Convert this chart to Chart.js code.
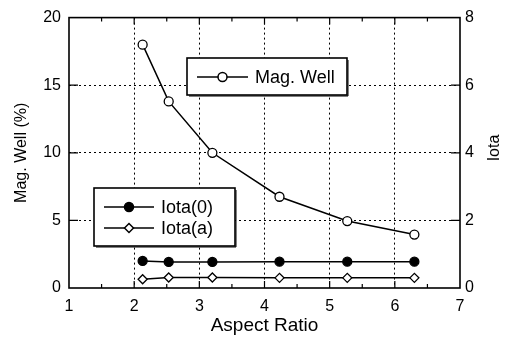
<!DOCTYPE html>
<html lang="en">
<head>
  <meta charset="UTF-8">
  <title>Mag. Well and Iota vs Aspect Ratio</title>
  <script src="https://cdn.jsdelivr.net/npm/chart.js"></script>
  <style>
    body { margin: 0; background: white; }
    #wrap { width: 513px; height: 338px; }
  </style>
</head>
<body>
  <div id="wrap"><canvas id="grafico"></canvas></div>

  <script>
    const aspectRatio = [2.13, 2.53, 3.2, 4.23, 5.27, 6.3];
    const magWell = [18.0, 13.8, 10.0, 6.75, 4.95, 3.95];
    const iota0 = [0.80, 0.77, 0.77, 0.78, 0.78, 0.78];
    const iotaA = [0.26, 0.31, 0.31, 0.30, 0.30, 0.30];

    const fonte = "'Liberation Sans', Arial, sans-serif";
    const pontos = arr => arr.map((v, i) => ({ x: aspectRatio[i], y: v }));
    const pontilhado = ctx => (ctx.index === 0 || ctx.index === ctx.chart.scales[ctx.scale.id].ticks.length - 1) ? "rgba(0,0,0,0)" : "#000";

    // legend boxes + frame + inward ticks
    const extras = {
      id: "extras",
      afterDraw(chart) {
        const { ctx, chartArea: a, scales } = chart;
        const sx = scales.x, yl = scales.y, yr = scales.y2;
        ctx.save();
        ctx.strokeStyle = "#000";
        ctx.lineWidth = 1.2;
        ctx.beginPath();
        for (let v = 1.5; v < 7; v += 0.5) {
          const px = sx.getPixelForValue(v);
          const len = Number.isInteger(v) ? 7 : 4;
          ctx.moveTo(px, a.bottom); ctx.lineTo(px, a.bottom - len);
          ctx.moveTo(px, a.top); ctx.lineTo(px, a.top + len);
        }
        [5, 10, 15].forEach(v => {
          const py = yl.getPixelForValue(v);
          ctx.moveTo(a.left, py); ctx.lineTo(a.left + 9, py);
        });
        [2, 4, 6].forEach(v => {
          const py = yr.getPixelForValue(v);
          ctx.moveTo(a.right, py); ctx.lineTo(a.right - 9, py);
        });
        ctx.stroke();
        ctx.lineWidth = 1.6;
        ctx.strokeRect(a.left, a.top, a.right - a.left, a.bottom - a.top);

        // Iota axis title, reading bottom to top
        ctx.fillStyle = "#000";
        ctx.font = "16px " + fonte;
        ctx.textAlign = "center";
        ctx.textBaseline = "middle";
        ctx.translate(495, 148);
        ctx.rotate(-Math.PI / 2);
        ctx.fillText("Iota", 0, 0);
        ctx.restore();

        const caixa = (x, y, w, h, itens) => {
          ctx.save();
          ctx.fillStyle = "#fff";
          ctx.fillRect(x, y, w, h);
          ctx.strokeStyle = "#000";
          ctx.lineWidth = 1.6;
          ctx.strokeRect(x, y, w, h);
          ctx.lineWidth = 1;
          ctx.beginPath();
          ctx.moveTo(x + 2, y + h + 1); ctx.lineTo(x + w + 1, y + h + 1); ctx.lineTo(x + w + 1, y + 2);
          ctx.stroke();
          itens.forEach(it => {
            const ds = chart.data.datasets[it.ds];
            ctx.strokeStyle = "#000";
            ctx.lineWidth = 1.5;
            ctx.beginPath();
            ctx.moveTo(it.x0, it.y); ctx.lineTo(it.x1, it.y);
            ctx.stroke();
            ctx.fillStyle = ds.pointBackgroundColor;
            Chart.helpers.drawPoint(ctx, {
              pointStyle: ds.pointStyle, radius: ds.pointRadius, rotation: 0, borderWidth: 1.3
            }, (it.x0 + it.x1) / 2, it.y);
            ctx.fillStyle = "#000";
            ctx.font = "18px " + fonte;
            ctx.textAlign = "left";
            ctx.textBaseline = "middle";
            ctx.fillText(ds.label, it.x1 + 7, it.y + 1);
          });
          ctx.restore();
        };
        caixa(187, 58, 160, 37, [{ ds: 0, x0: 197, x1: 248, y: 77 }]);
        caixa(94, 188, 141, 58, [
          { ds: 1, x0: 104, x1: 154, y: 207 },
          { ds: 2, x0: 104, x1: 154, y: 228 }
        ]);
      }
    };

    new Chart(document.getElementById("grafico"), {
      type: "scatter",
      data: {
        datasets: [
          { label: "Mag. Well", data: pontos(magWell), yAxisID: "y", showLine: true,
            borderColor: "#000", borderWidth: 1.5, pointStyle: "circle", pointRadius: 4.5,
            pointBackgroundColor: "#fff", pointBorderColor: "#000", pointBorderWidth: 1.3 },
          { label: "Iota(0)", data: pontos(iota0), yAxisID: "y2", showLine: true,
            borderColor: "#000", borderWidth: 1.5, pointStyle: "circle", pointRadius: 4.5,
            pointBackgroundColor: "#000", pointBorderColor: "#000", pointBorderWidth: 1.3 },
          { label: "Iota(a)", data: pontos(iotaA), yAxisID: "y2", showLine: true,
            borderColor: "#000", borderWidth: 1.5, pointStyle: "rectRot", pointRadius: 4.5,
            pointBackgroundColor: "#fff", pointBorderColor: "#000", pointBorderWidth: 1.3 }
        ]
      },
      options: {
        responsive: true,
        maintainAspectRatio: false,
        animation: false,
        layout: { padding: { top: 15, left: 0, right: 0, bottom: 0 } },
        plugins: { legend: { display: false }, tooltip: { enabled: false } },
        scales: {
          x: {
            type: "linear", min: 1, max: 7,
            afterFit: s => { s.height = 50; },
            ticks: { stepSize: 1, color: "#000", font: { family: fonte, size: 16 }, padding: 9 },
            grid: { color: pontilhado, drawTicks: false, lineWidth: 1 },
            border: { display: false, dash: [2, 3] },
            title: { display: true, text: "Aspect Ratio", color: "#000", font: { family: fonte, size: 19 }, padding: { top: 0, bottom: 1 } }
          },
          y: {
            position: "left", min: 0, max: 20,
            afterFit: s => { s.width = 69; },
            ticks: { stepSize: 5, color: "#000", font: { family: fonte, size: 16 }, padding: 8 },
            grid: { color: pontilhado, drawTicks: false, lineWidth: 1 },
            border: { display: false, dash: [2, 3] },
            title: { display: true, text: "Mag. Well (%)", color: "#000", font: { family: fonte, size: 16 }, padding: { top: 12, bottom: 0 } }
          },
          y2: {
            position: "right", min: 0, max: 8,
            afterFit: s => { s.width = 53; },
            ticks: { stepSize: 2, color: "#000", font: { family: fonte, size: 16 }, padding: 5 },
            grid: { display: false, drawTicks: false },
            border: { display: false }
          }
        }
      },
      plugins: [extras]
    });
  </script>
</body>
</html>
